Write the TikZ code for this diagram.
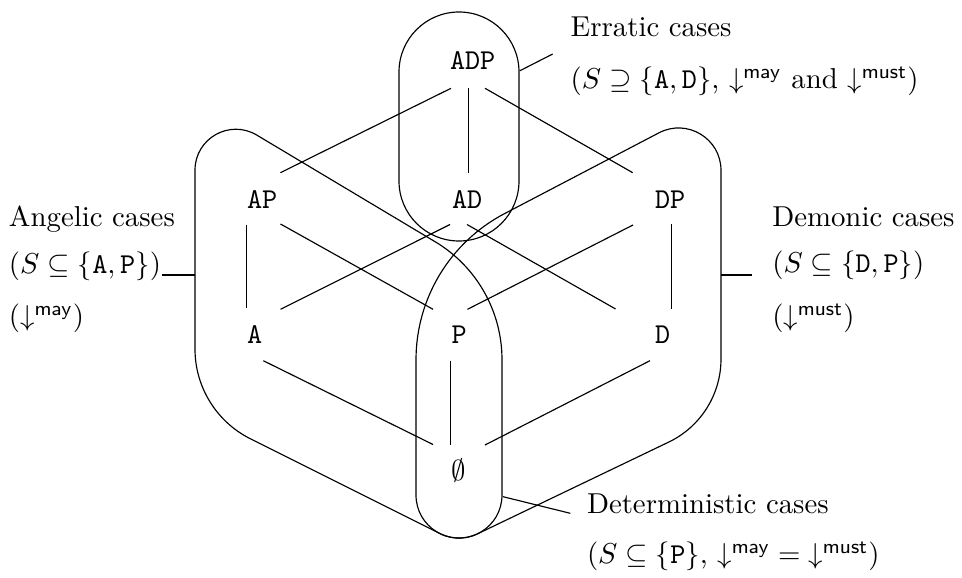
\documentclass[tikz,border=0pt]{standalone}
\usetikzlibrary{calc}
\begin{document}
\begin{tikzpicture}[x=0.3472pt,y=-0.3472pt,
  every node/.style={inner sep=0pt, outer sep=0pt, anchor=base west},
  hasse/.style={line width=0.4pt},
  blob/.style={line width=0.4pt},
  callout/.style={line width=0.4pt}]
\useasboundingbox (0,0) rectangle (962,578);

% lattice nodes
\node (nADP) at (450,70) {\texttt{ADP}};
\node (nAP) at (247,208.5) {\texttt{AP}};
\node (nAD) at (452,208.5) {\texttt{AD}};
\node (nDP) at (655,208.5) {\texttt{DP}};
\node (nA) at (247,343.5) {\texttt{A}};
\node (nP) at (451.5,343.5) {\texttt{P}};
\node (nD) at (655,343.5) {\texttt{D}};
\node (nE) at (451.5,480.5) {$\emptyset$};

% Hasse edges
\draw[hasse] ($(nADP.base west)+(1,18.3)$) -- ($(nAP.base west)+(33.4,-35.8)$);
\draw[hasse] ($(nADP.base west)+(18.3,18.3)$) -- ($(nAD.base west)+(16.3,-35.2)$);
\draw[hasse] ($(nADP.base west)+(35,18.3)$) -- ($(nDP.base west)+(-22.3,-35.8)$);
\draw[hasse] ($(nAP.base west)+(-0.3,16.5)$) -- ($(nA.base west)+(-0.3,-35.2)$);
\draw[hasse] ($(nAP.base west)+(33.5,15.5)$) -- ($(nP.base west)+(-18.5,-34.2)$);
\draw[hasse] ($(nAD.base west)+(-2,16)$) -- ($(nA.base west)+(33.6,-34.2)$);
\draw[hasse] ($(nAD.base west)+(15,16)$) -- ($(nD.base west)+(-39.4,-34.5)$);
\draw[hasse] ($(nDP.base west)+(-22,16.5)$) -- ($(nP.base west)+(16,-34.2)$);
\draw[hasse] ($(nDP.base west)+(16.7,15.8)$) -- ($(nD.base west)+(16.7,-34.2)$);
\draw[hasse] ($(nA.base west)+(16.3,17.2)$) -- ($(nE.base west)+(-18.5,-36)$);
\draw[hasse] ($(nP.base west)+(-0.8,17.2)$) -- ($(nE.base west)+(-0.8,-35.5)$);
\draw[hasse] ($(nD.base west)+(-5,17.2)$) -- ($(nE.base west)+(33.5,-35.5)$);

% blobs
\draw[blob, rounded corners=20.83pt] (399,12) rectangle (519,241);
\draw[blob] (195,170.1) .. controls (195,138.4) and (229.6,118.8) .. (256.8,135.1)
  -- (435.1,241.7) .. controls (476.6,266.5) and (502,311.3) .. (502,359.7)
  -- (502,495) .. controls (502,527) and (468.3,547.8) .. (439.8,533.5)
  -- (250.4,438.8) .. controls (216.5,421.8) and (195,387.1) .. (195,349.1) -- cycle;
\draw[blob] (659,132.8) .. controls (687.2,118.1) and (721,138.5) .. (721,170.4)
  -- (721,359) .. controls (721,394.4) and (700.7,426.8) .. (668.7,442.1)
  -- (477.6,533.8) .. controls (449.0,547.5) and (416,526.7) .. (416,495)
  -- (416,359.9) .. controls (416,298.4) and (450.1,242.1) .. (504.6,213.6) -- cycle;

% labels
\node (ert1) at (570.7,36.7) {Erratic cases};
\node (ert2) at (570.7,89) {$(S\supseteq\{\mathtt{A},\mathtt{D}\}$, ${\downarrow^{\mathsf{may}}}$ and ${\downarrow^{\mathsf{must}}})$};
\node (ang1) at (9,226.7) {Angelic cases};
\node (ang2) at (9,273.3) {$(S\subseteq\{\mathtt{A},\mathtt{P}\})$};
\node (ang3) at (9,326) {$({\downarrow^{\mathsf{may}}})$};
\node (dem1) at (772.3,226.7) {Demonic cases};
\node (dem2) at (772.3,272.5) {$(S\subseteq\{\mathtt{D},\mathtt{P}\})$};
\node (dem3) at (772.3,326) {$({\downarrow^{\mathsf{must}}})$};
\node (det1) at (587,513.3) {Deterministic cases};
\node (det2) at (587,564) {$(S\subseteq\{\mathtt{P}\}$, ${\downarrow^{\mathsf{may}}}={\downarrow^{\mathsf{must}}})$};

% callouts
\coordinate (ertL) at (520,70.7);
\coordinate (angL) at (195,275);
\coordinate (demL) at (721,275);
\coordinate (detL) at (503,496.7);
\draw[callout] (ertL) -- ($(ert2.base west)+(-18,-35)$);
\draw[callout] (angL) -- ($(angL -| ang2.east)+(1.5,0)$);
\draw[callout] (demL) -- ($(demL -| dem2.west)+(-20,0)$);
\draw[callout] (detL) -- ($(det1.base west)+(-16.7,0)$);
\end{tikzpicture}
\end{document}
